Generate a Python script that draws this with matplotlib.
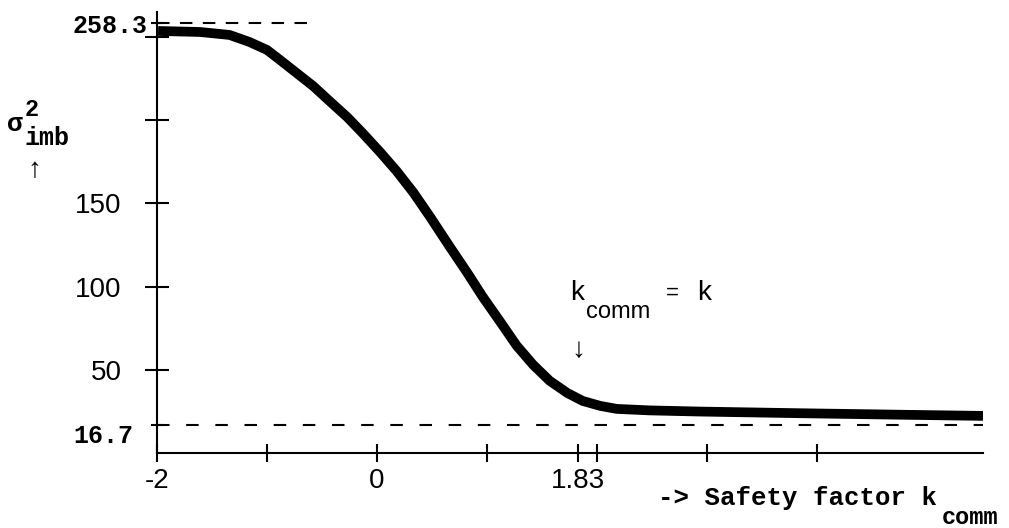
import matplotlib
matplotlib.use("Agg")
import matplotlib.pyplot as plt
import numpy as np

# curve: safety factor k_comm vs imbalance variance
k_comm = [-1.99, -1.61, -1.34, -1.16, -1.00, -0.88, -0.73, -0.58, -0.43, -0.27,
          -0.13, 0.03, 0.18, 0.33, 0.48, 0.66, 0.82, 0.96, 1.12, 1.27,
          1.42, 1.57, 1.73, 1.87, 2.03, 2.18, 2.48, 2.94, 3.85, 4.76, 5.51]
sigma2_imb = [253.6, 253.0, 251.2, 247.0, 242.2, 236.1, 228.3, 220.5, 211.4, 201.8,
              192.2, 180.7, 169.3, 156.6, 142.2, 124.1, 108.4, 94.0, 78.9, 64.5,
              53.0, 43.4, 36.1, 31.3, 28.3, 26.5, 25.6, 24.9, 23.9, 23.0, 22.3]

upper_bound = 258.3
lower_bound = 16.7

x_ticks = [-2, -1, 0, 1, 1.83, 2, 3, 4]
x_tick_labels = ["-2", "", "0", "", "1.83", "", "", ""]
y_ticks = [50, 100, 150, 200, 250]
y_tick_labels = ["50", "100", "150", "", ""]

W, H = 1009, 528
SANS = ["Liberation Sans Narrow", "Liberation Sans", "DejaVu Sans"]
MONO = ["Liberation Mono", "DejaVu Sans Mono"]


def fxy(px, py):
    return px / W, 1 - py / H


fig = plt.figure(figsize=(W / 100, H / 100), dpi=100)
ax = fig.add_axes([157 / W, 1 - 453 / H, (983 - 157) / W, (453 - 12) / H])

ax.plot(k_comm, sigma2_imb, color="black", lw=7, solid_capstyle="butt",
        solid_joinstyle="round")
ax.plot([-2, -0.61], [upper_bound, upper_bound], color="black", lw=1.5,
        linestyle=(0, (6, 5)))
ax.plot([-2, 5.51], [lower_bound, lower_bound], color="black", lw=1.5,
        linestyle=(0, (6, 8)))

ax.set_xlim(-2, 5.51)
ax.set_ylim(0, 265)
for side in ("top", "right"):
    ax.spines[side].set_visible(False)
for side in ("left", "bottom"):
    ax.spines[side].set_linewidth(1.5)

ax.set_xticks(x_ticks, x_tick_labels)
ax.set_yticks(y_ticks, y_tick_labels)
ax.set_yticks([lower_bound, upper_bound], minor=True)
ax.tick_params(axis="y", which="major", direction="inout", length=17, width=1.5,
               pad=17, labelsize=20)
ax.tick_params(axis="y", which="minor", direction="inout", length=8, width=1.5)
ax.tick_params(axis="x", which="major", direction="inout", length=13, width=1.5,
               pad=4, labelsize=20)
for lbl in ax.get_xticklabels() + ax.get_yticklabels():
    lbl.set_family(SANS)

mono = dict(family=MONO, weight="bold", color="black")
sans = dict(family=SANS, color="black")

# bound labels on the y axis
fig.text(*fxy(147, 26), "258.3", ha="right", va="center", fontsize=18, **mono)
fig.text(*fxy(133, 436), "16.7", ha="right", va="center", fontsize=18, **mono)

# y axis label: sigma^2_imb with an arrow
fig.text(*fxy(15, 124), "σ", ha="center", va="center", fontsize=19, **mono)
fig.text(*fxy(32, 110), "2", ha="center", va="center", fontsize=17, **mono)
fig.text(*fxy(47, 138), "imb", ha="center", va="center", fontsize=18, **mono)
fig.text(*fxy(34, 170), "↑", ha="center", va="center", fontsize=20, **sans)

# x axis label
fig.text(*fxy(937, 498), "-> Safety factor k", ha="right", va="center",
         fontsize=18.5, **mono)
fig.text(*fxy(970, 517), "comm", ha="center", va="center", fontsize=17, **mono)

# k_comm = k annotation
fig.text(*fxy(577, 293), "k", ha="center", va="center", fontsize=20, **sans)
fig.text(*fxy(586, 312), "comm", ha="left", va="center", fontsize=17, **sans)
fig.text(*fxy(672, 293), "=", ha="center", va="center", fontsize=16, **sans)
fig.text(*fxy(704, 293), "k", ha="center", va="center", fontsize=20, **sans)
fig.text(*fxy(578, 350), "↓", ha="center", va="center", fontsize=20, **sans)

fig.savefig("out.png", dpi=100)
